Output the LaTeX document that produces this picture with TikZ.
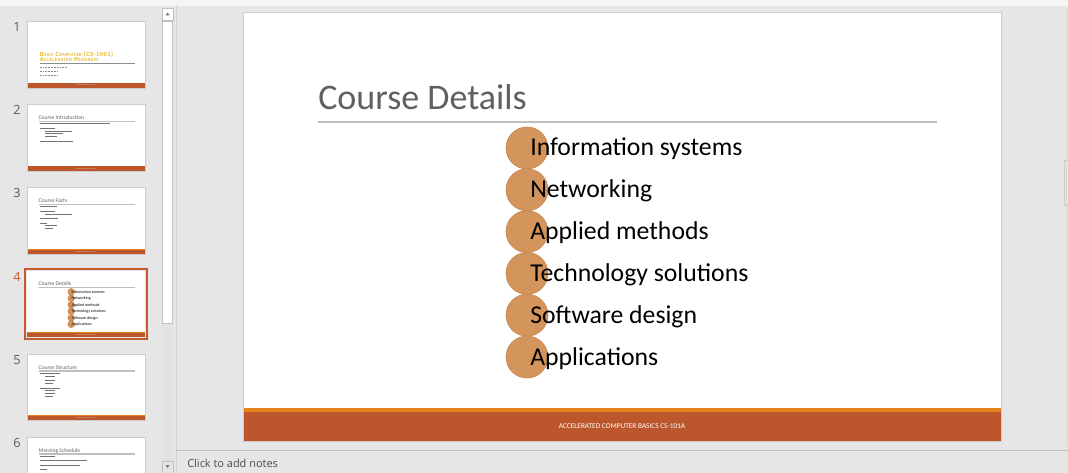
\documentclass[tikz,border=0pt]{standalone}
\usepackage{fontspec}
\setmainfont{Carlito}
\newfontfamily\uifont{Open Sans}
\newfontfamily\capsfont[LetterSpace=8]{Carlito}

\definecolor{appgray}{RGB}{230,230,230}
\definecolor{band}{RGB}{188,86,44}
\definecolor{stripe}{RGB}{227,131,25}
\definecolor{bullet}{RGB}{212,149,92}
\definecolor{bulletedge}{RGB}{196,132,76}
\definecolor{titlegray}{RGB}{96,96,96}
\definecolor{gold}{RGB}{232,183,45}
\definecolor{selected}{RGB}{197,90,48}

\tikzset{
	dot/.style = {circle, fill = bullet, draw = bulletedge, line width = 0.4pt, minimum size = 29.9pt, inner sep = 0pt, transform shape},
	item/.style = {anchor = base west, inner sep = 0pt, font = \fontsize{18.3}{20}\selectfont, transform shape},
	heading/.style = {anchor = base west, inner sep = 0pt, text = titlegray, font = \fontsize{25.6}{28}\selectfont, transform shape},
	footnote/.style = {inner sep = 0pt, text = white, font = \fontsize{5.2}{6}\selectfont, transform shape},
	gold title/.style = {anchor = base west, inner sep = 0pt, text = gold, font = \capsfont\bfseries\fontsize{29}{31}\selectfont, transform shape},
	bar/.style = {line width = 0.55pt, black!55},
	num/.style = {inner sep = 0pt, text = black!65, font = \uifont\fontsize{9}{10}\selectfont},
	thumb/.style = {draw = black!20, line width = 0.4pt},
}

\newcommand{\smallpart}[1]{{\fontsize{22}{24}\selectfont #1}}

\newcommand{\slideframe}[1]{%
	\fill[white] (0, 0) rectangle (758, 429);
	\fill[stripe] (0, 396) rectangle (758, 400);
	\fill[band] (0, 400) rectangle (758, 429);
	\node[footnote] (foot#1) at (379, 414.5) {ACCELERATED COMPUTER BASICS CS-101A};
}

\newcommand{\slidetitle}[2]{%
	\node[heading] (title#1) at (75, 98) {#2};
	\draw[black!25, line width = 0.9pt] (75, 110) -- (694, 110);
}

\newcommand{\bars}[1]{\foreach \yy/\xa/\xb in {#1} \draw[bar] (\xa, \yy) -- (\xb, \yy);}

\newcommand{\detailsbody}[1]{%
	\foreach \i in {1, ..., 6}
	\node[dot] (dot#1\i) at (284, 94.2 + 41.8 * \i) {};
	\foreach \name [count = \i] in {Information systems, Networking, Applied methods, Technology solutions, Software design, Applications}
	\node[item] (item#1\i) at (287, 102.2 + 41.8 * \i) {\name};
}

\begin{document}
\begin{tikzpicture}[x = 0.025cm, y = -0.025cm]
	\useasboundingbox (0, 0) rectangle (1068, 473);
	\fill[appgray] (0, 0) rectangle (1068, 473);
	\fill[black!4] (0, 0) rectangle (1068, 6);
	
	\draw[black!18] (176, 6) -- (176, 473);
	\draw[black!25] (176, 450) -- (1068, 450);
	\node[anchor = west, inner sep = 0pt, text = black!70, font = \uifont\fontsize{7.8}{9}\selectfont] (notes) at (187, 463) {Click to add notes};
	
	\draw[black!15] (1066, 8) -- (1066, 446);
	\draw[black!20] (1064, 160) rectangle (1068, 205);
	
	% scroll bar of the slide list
	\fill[black!11] (162, 8) rectangle (173, 473);
	\draw[black!25, fill = white] (162, 8) rectangle (173, 20);
	\fill[black!55] (165.5, 15.5) -- (169.5, 15.5) -- (167.5, 12.5) -- cycle;
	\draw[black!25, fill = white] (162.5, 21) rectangle (172.5, 323);
	
	% main slide
	\begin{scope}[shift = {(243, 12)}]
		\slideframe{m}
		\draw[black!20] (0, 0) rectangle (758, 429);
		\slidetitle{m}{Course Details}
		\detailsbody{m}
	\end{scope}
	
	% slide list
	\begin{scope}
		\clip (0, 6) rectangle (160, 473);
		
		\node[num] (n1) at (17, 27) {1};
		\node[num] (n2) at (17, 110) {2};
		\node[num] (n3) at (17, 193) {3};
		\node[num, text = selected] (n4) at (17, 277) {4};
		\node[num] (n5) at (17, 360) {5};
		\node[num] (n6) at (17, 443) {6};
		
		\begin{scope}[shift = {(27, 21)}, scale = 0.1557]
			\slideframe{a}
			\node[gold title] (titlea) at (83, 229) {B\smallpart{ASIC} C\smallpart{OMPUTER} (CS-1001)};
			\node[gold title] (titleb) at (83, 257) {A\smallpart{CCELERATED} P\smallpart{ROGRAM}};
			\draw[black!45, line width = 0.6pt] (83, 272) -- (694, 272);
			\foreach \yy/\xb in {300/257, 325/193, 347/199}
			\draw[black!45, line width = 0.5pt, dash pattern = on 0.6pt off 0.5pt] (83, \yy) -- (\xb, \yy);
		\end{scope}
		\draw[thumb] (27, 21) rectangle (145, 87.8);
		
		\begin{scope}[shift = {(27, 104.2)}, scale = 0.1557]
			\slideframe{b}
			\slidetitle{b}{Course Introduction}
			\bars{124/83/533, 154/83/180, 175/116/289, 188/116/231, 207/116/193, 242/83/295}
		\end{scope}
		\draw[thumb] (27, 104.2) rectangle (145, 171);
		
		\begin{scope}[shift = {(27, 187.4)}, scale = 0.1557]
			\slideframe{c}
			\slidetitle{c}{Course Facts}
			\bars{122/83/193, 154/83/180, 173/116/289, 201/83/199, 229/83/128, 244/116/193, 265/116/167}
		\end{scope}
		\draw[thumb] (27, 187.4) rectangle (145, 254.2);
		
		\begin{scope}[shift = {(27, 270.6)}, scale = 0.1557]
			\slideframe{d}
			\slidetitle{d}{Course Details}
			\detailsbody{d}
		\end{scope}
		\draw[selected, line width = 1.4pt] (25.3, 268.9) rectangle (146.7, 339.1);
		
		\begin{scope}[shift = {(27, 353.8)}, scale = 0.1557]
			\slideframe{e}
			\slidetitle{e}{Course Structure}
			\bars{127/83/212, 148/116/180, 169/116/180, 190/116/167, 220/83/212, 238/116/180, 255/116/180, 276/116/167}
		\end{scope}
		\draw[thumb] (27, 353.8) rectangle (145, 420.6);
		
		\begin{scope}[shift = {(27, 437)}, scale = 0.1557]
			\fill[white] (0, 0) rectangle (758, 429);
			\slidetitle{f}{Morning Schedule}
			\bars{126/83/180, 152/83/385, 180/83/340, 207/83/130}
		\end{scope}
		\draw[thumb] (27, 437) rectangle (145, 503.8);
	\end{scope}
	
	\draw[black!25, fill = appgray] (162, 461) rectangle (173, 473);
	\fill[black!55] (165.5, 465) -- (169.5, 465) -- (167.5, 468) -- cycle;
\end{tikzpicture}
\end{document}
